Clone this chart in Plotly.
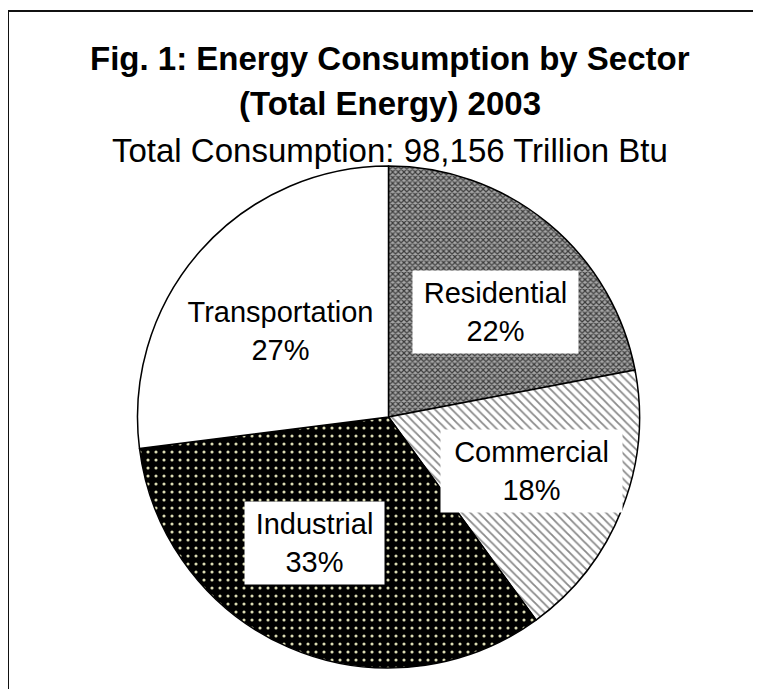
import plotly.graph_objects as go

# 数据
sectors = ['Residential', 'Commercial', 'Industrial', 'Transportation']
shares = [22, 18, 33, 27]
title_lines = ['Fig. 1: Energy Consumption by Sector', '(Total Energy) 2003']
subtitle = 'Total Consumption: 98,156 Trillion Btu'

W, H = 761, 689
OFF = 8  # 页面body默认边距
FONT = 'Liberation Sans, Arial, sans-serif'


def px(x, y):
    """截图像素坐标 -> paper坐标"""
    return (x - OFF) / W, 1 - (y - OFF) / H


fig = go.Figure()

x0, y_top = px(137, 166)
x1, y_bot = px(640, 668)
fig.add_trace(go.Pie(
    labels=sectors, values=shares, sort=False, direction='clockwise',
    rotation=0, textinfo='none', hoverinfo='label+percent',
    marker=dict(
        colors=['#9a9a9a', '#ffffff', '#000000', '#ffffff'],
        line=dict(color='#000000', width=1.5),
        pattern=dict(
            shape=['x', '\\', '.', ''],
            fgcolor=['#3c3c3c', '#8a8a8a', '#dcdcb4', '#ffffff'],
            bgcolor=['#a6a6a6', '#ffffff', '#000000', '#ffffff'],
            size=[4, 6, 8, 8],
            solidity=[0.5, 0.3, 0.12, 0.1],
        ),
    ),
    domain=dict(x=[x0, x1], y=[y_bot, y_top]),
    showlegend=False,
))

# 标题
for text, base in zip(title_lines, [69, 114]):
    x, y = px(390, base - 11)
    fig.add_annotation(x=x, y=y, xref='paper', yref='paper', showarrow=False,
                       text=f'<b>{text}</b>', font=dict(size=33, color='black', family=FONT),
                       xanchor='center', yanchor='middle')
x, y = px(390, 161 - 11)
fig.add_annotation(x=x, y=y, xref='paper', yref='paper', showarrow=False,
                   text=subtitle, font=dict(size=33, color='black', family=FONT),
                   xanchor='center', yanchor='middle')

# 扇区标签（白底框）
label_pos = {'Residential': (495.5, 312, 165), 'Commercial': (531, 471, 181),
             'Industrial': (314, 542.5, 139), 'Transportation': (280.5, 330.5, 209)}
for name, val in zip(sectors, shares):
    cx, cy, w = label_pos[name]
    x, y = px(cx, cy)
    fig.add_annotation(x=x, y=y, xref='paper', yref='paper', showarrow=False,
                       text=f'{name}<br>{val}%', font=dict(size=29, color='black', family=FONT),
                       bgcolor='white', width=w, height=82, borderpad=0,
                       xanchor='center', yanchor='middle', align='center')

# 外框：只画上边和左边
fx, fy = px(8, 11)
frame = dict(color='#111111', width=2)
fig.add_shape(type='line', xref='paper', yref='paper', x0=fx, x1=1.5, y0=fy, y1=fy, line=frame)
fig.add_shape(type='line', xref='paper', yref='paper', x0=fx, x1=fx, y0=-0.5, y1=fy, line=frame)

fig.update_layout(
    width=W, height=H, margin=dict(l=0, r=0, t=0, b=0),
    paper_bgcolor='white', plot_bgcolor='white',
    font=dict(family=FONT),
)

fig.write_html('out.html')
